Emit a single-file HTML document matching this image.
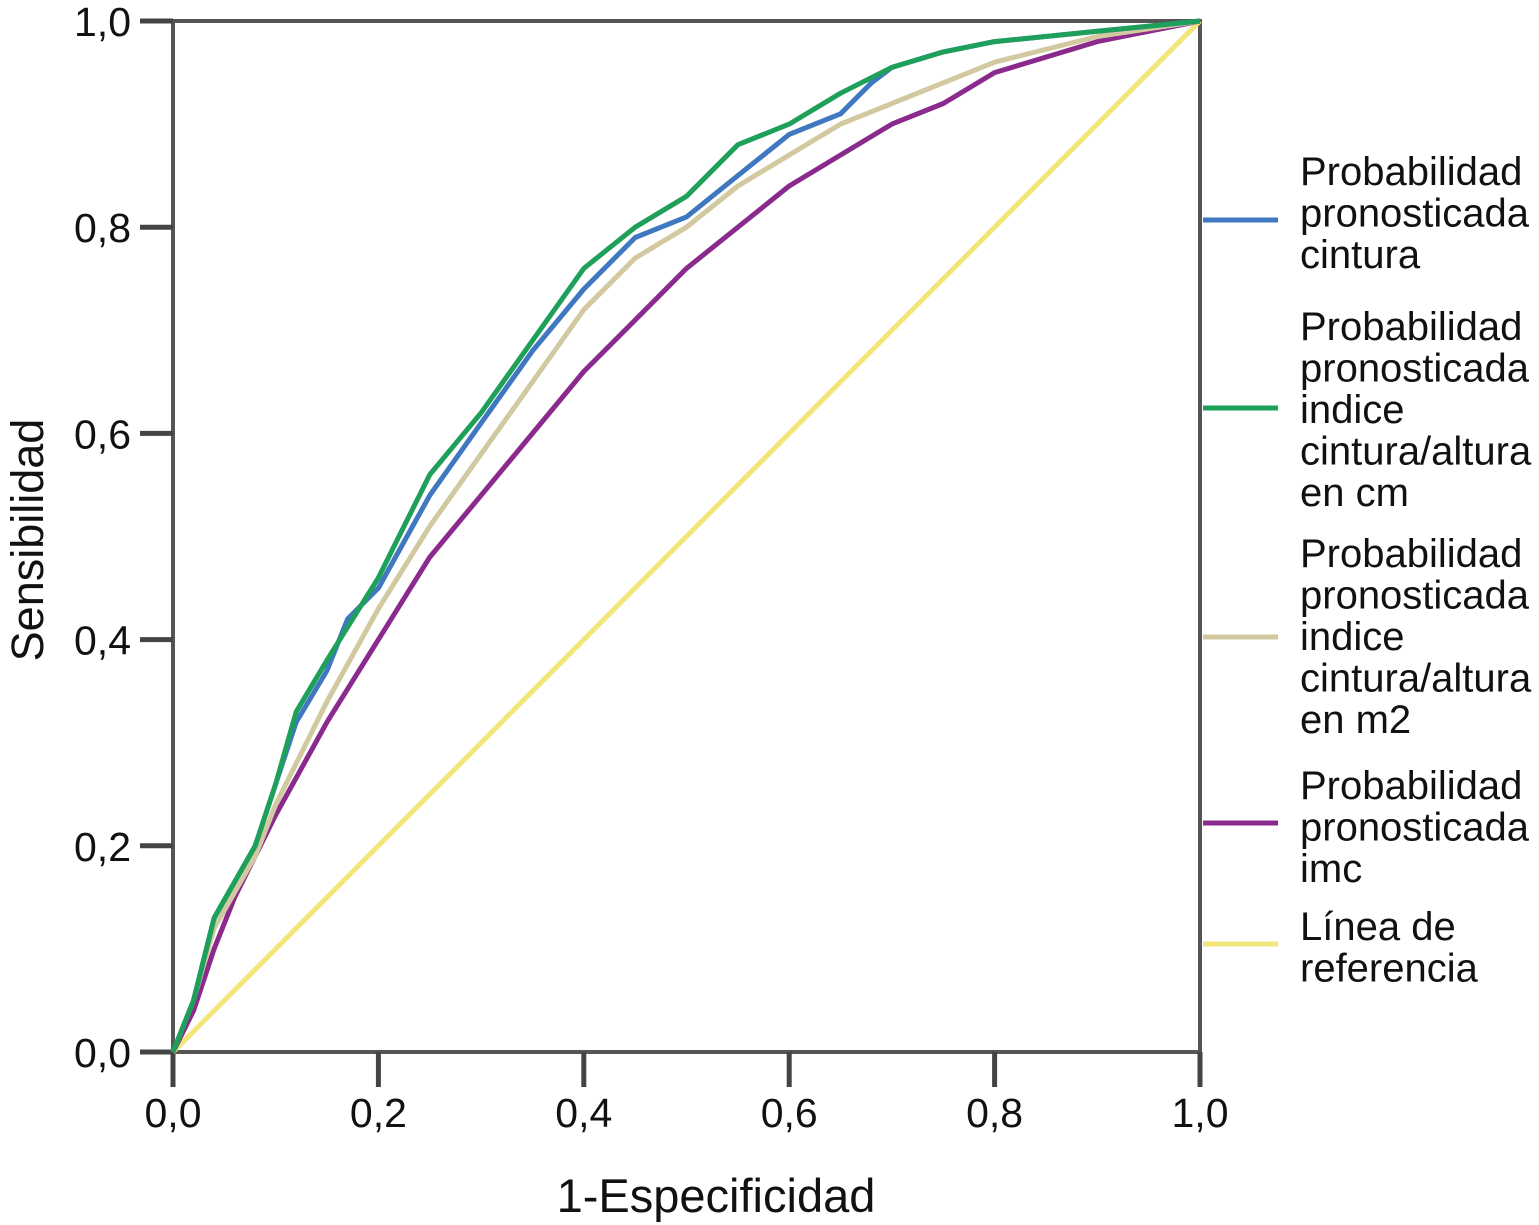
<!DOCTYPE html>
<html><head><meta charset="utf-8"><style>
body{margin:0;background:#fff}
svg{display:block;font-family:"Liberation Sans",sans-serif}
</style></head><body>
<svg id="chart" width="1539" height="1225">
<g id="plot"></g>
</svg>
<script>
const xTicks=[0,0.2,0.4,0.6,0.8,1.0];
const yTicks=[0,0.2,0.4,0.6,0.8,1.0];
const tickLabels=["0,0","0,2","0,4","0,6","0,8","1,0"];
const cinturaX=[0,0.02,0.04,0.08,0.1,0.12,0.15,0.17,0.2,0.25,0.3,0.35,0.4,0.45,0.5,0.55,0.6,0.65,0.68,0.7,0.75,0.8,0.9,1];
const cinturaY=[0,0.05,0.13,0.2,0.26,0.32,0.37,0.42,0.45,0.54,0.61,0.68,0.74,0.79,0.81,0.85,0.89,0.91,0.94,0.955,0.97,0.98,0.99,1];
const icmX=[0,0.02,0.04,0.08,0.1,0.12,0.15,0.2,0.22,0.25,0.3,0.35,0.4,0.45,0.5,0.55,0.6,0.65,0.7,0.75,0.8,0.9,1];
const icmY=[0,0.05,0.13,0.2,0.26,0.33,0.38,0.46,0.5,0.56,0.62,0.69,0.76,0.8,0.83,0.88,0.9,0.93,0.955,0.97,0.98,0.99,1];
const im2X=[0,0.02,0.04,0.08,0.1,0.15,0.2,0.25,0.3,0.35,0.4,0.45,0.5,0.55,0.6,0.65,0.7,0.8,0.9,1];
const im2Y=[0,0.05,0.12,0.19,0.24,0.34,0.43,0.51,0.58,0.65,0.72,0.77,0.8,0.84,0.87,0.9,0.92,0.96,0.985,1];
const imcX=[0,0.02,0.04,0.06,0.1,0.15,0.2,0.25,0.3,0.35,0.4,0.45,0.5,0.55,0.6,0.65,0.7,0.75,0.8,0.85,0.9,1];
const imcY=[0,0.04,0.1,0.15,0.23,0.32,0.4,0.48,0.54,0.6,0.66,0.71,0.76,0.8,0.84,0.87,0.9,0.92,0.95,0.965,0.98,1];
const refX=[0,1];
const refY=[0,1];

const X0=173,X1=1200,Y0=1052,Y1=21;
const sx=v=>X0+v*(X1-X0), sy=v=>Y0-v*(Y0-Y1);
const NS="http://www.w3.org/2000/svg";
const g=document.getElementById('plot');
function mk(tag,attrs,parent){const e=document.createElementNS(NS,tag);for(const k in attrs)e.setAttribute(k,attrs[k]);(parent||g).appendChild(e);return e;}

const fr=mk('rect',{x:X0,y:Y1,width:X1-X0,height:Y0-Y1,fill:'none',stroke:'#555',"stroke-width":4});



xTicks.forEach((t,i)=>{
  const l=mk('line',{x1:sx(t),x2:sx(t),y1:Y0,y2:Y0+35,stroke:'#444',"stroke-width":5});
  
  
  const tx=mk('text',{x:sx(t),y:Y0+75,"font-size":41,"text-anchor":"middle",fill:'#111'});
  tx.textContent=tickLabels[i];
  
  
});
yTicks.forEach((t,i)=>{
  const l=mk('line',{x1:X0-33,x2:X0,y1:sy(t),y2:sy(t),stroke:'#444',"stroke-width":5});
  
  
  const tx=mk('text',{x:X0-42,y:sy(t)+15,"font-size":41,"text-anchor":"end",fill:'#111'});
  tx.textContent=tickLabels[i];
  
  
});

function series(xs,ys,color,name){
  const d=xs.map((x,i)=>(i?'L':'M')+sx(x).toFixed(1)+','+sy(ys[i]).toFixed(1)).join(' ');
  const p=mk('path',{d:d,fill:'none',stroke:color,"stroke-width":5,"stroke-linejoin":"round"});
  
  
}
series(refX,refY,'#f3e678','series-referencia');
series(imcX,imcY,'#8a2a8c','series-imc');
series(im2X,im2Y,'#d2c9a0','series-indice-m2');
series(cinturaX,cinturaY,'#3f78c0','series-cintura');
series(icmX,icmY,'#1fa05a','series-indice-cm');

const xt=mk('text',{x:716,y:1212,"font-size":47,"text-anchor":"middle",fill:'#111'});
xt.textContent='1-Especificidad';


const yt=mk('text',{x:0,y:0,"font-size":45,"text-anchor":"middle",fill:'#111',transform:'translate(43,540) rotate(-90)'});
yt.textContent='Sensibilidad';



const legend=[
 {c:'#3f78c0',ly:220,lines:['Probabilidad','pronosticada','cintura'],t:171},
 {c:'#1fa05a',ly:408,lines:['Probabilidad','pronosticada','indice','cintura/altura','en cm'],t:326},
 {c:'#d2c9a0',ly:637,lines:['Probabilidad','pronosticada','indice','cintura/altura','en m2'],t:553},
 {c:'#8a2a8c',ly:823,lines:['Probabilidad','pronosticada','imc'],t:785},
 {c:'#f3e678',ly:944,lines:['Línea de','referencia'],t:926}
];
legend.forEach(it=>{
  const l=mk('line',{x1:1203,x2:1278,y1:it.ly,y2:it.ly,stroke:it.c,"stroke-width":5});
  
  
  it.lines.forEach((s,j)=>{
    const tx=mk('text',{x:1300,y:it.t+j*41.5+14,"font-size":40,fill:'#111'});
    tx.textContent=s;
    
    
  });
});
</script>
</body></html>
